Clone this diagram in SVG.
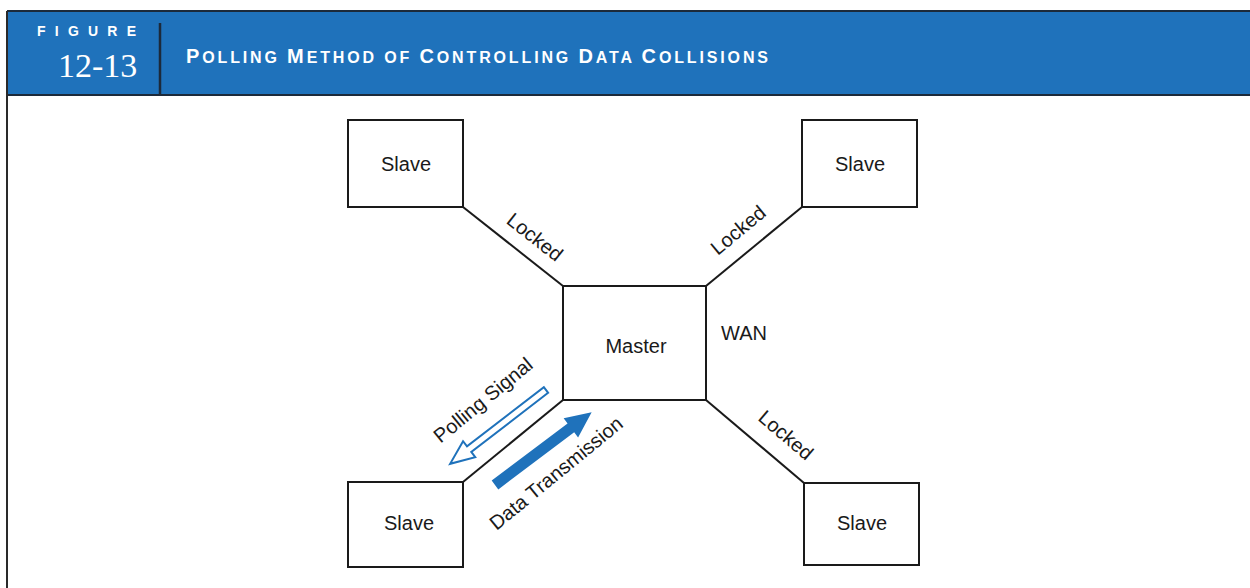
<svg xmlns="http://www.w3.org/2000/svg" width="1250" height="588" viewBox="0 0 1250 588">
  <style>
    .box { fill: #ffffff; stroke: #1a1a1a; stroke-width: 2; }
    .link { stroke: #1a1a1a; stroke-width: 2; fill: none; }
    .lbl { font-family: "Liberation Sans", Arial, sans-serif; font-size: 20px; fill: #1a1a1a; }
    .mid { text-anchor: middle; }
    .hdr { font-family: "Liberation Sans", Arial, sans-serif; font-weight: bold; fill: #ffffff; }
  </style>

  <rect x="0" y="0" width="1250" height="588" fill="#ffffff"/>

  <!-- figure header band -->
  <g id="header">
    <rect x="7" y="11" width="1243" height="84" fill="#1f72bb"/>
    <line x1="7" y1="11" x2="1250" y2="11" stroke="#1c2a3a" stroke-width="2"/>
    <line x1="7" y1="95" x2="1250" y2="95" stroke="#1c2a3a" stroke-width="2"/>
    <line x1="7" y1="11" x2="7" y2="588" stroke="#2a2a2a" stroke-width="2"/>
    <line x1="160" y1="23" x2="160" y2="95" stroke="#1c2a3a" stroke-width="2.5"/>
    <text class="hdr" x="37" y="36" font-size="14" textLength="99" lengthAdjust="spacing">FIGURE</text>
    <text x="58" y="77" font-family="'Liberation Serif', 'Times New Roman', serif" font-size="34" fill="#ffffff">12-13</text>
    <text class="hdr" x="186" y="63" textLength="582" lengthAdjust="spacing"><tspan font-size="20">P</tspan><tspan font-size="16">OLLING </tspan><tspan font-size="20">M</tspan><tspan font-size="16">ETHOD OF </tspan><tspan font-size="20">C</tspan><tspan font-size="16">ONTROLLING </tspan><tspan font-size="20">D</tspan><tspan font-size="16">ATA </tspan><tspan font-size="20">C</tspan><tspan font-size="16">OLLISIONS</tspan></text>
  </g>

  <!-- links from master to each slave -->
  <g id="connectors">
    <line class="link" x1="463" y1="207" x2="563" y2="286"/>
    <line class="link" x1="706" y1="286" x2="802" y2="207"/>
    <line class="link" x1="706" y1="400" x2="804" y2="483"/>
    <line class="link" x1="563" y1="400" x2="463" y2="482"/>

    <text class="lbl mid" transform="translate(535,237) rotate(38.3)" x="0" y="7">Locked</text>
    <text class="lbl mid" transform="translate(738,230) rotate(-39.7)" x="0" y="7">Locked</text>
    <text class="lbl mid" transform="translate(786,435) rotate(40.3)" x="0" y="7">Locked</text>
    <text class="lbl mid" transform="translate(483,400) rotate(-39.4)" x="0" y="7">Polling Signal</text>
    <text class="lbl mid" transform="translate(556,473) rotate(-39.4)" x="0" y="7">Data Transmission</text>

    <!-- polling signal: hollow arrow from master toward slave -->
    <polygon transform="translate(546,390) rotate(142.4)" points="0,-3.5 97,-3.5 97,-10 121,0 97,10 97,3.5 0,3.5" fill="#ffffff" stroke="#1f72bb" stroke-width="2" stroke-linejoin="miter"/>
    <!-- data transmission: solid arrow from slave toward master -->
    <polygon transform="translate(495,485) rotate(-37)" points="0,-5.5 95,-5.5 95,-12 121,0 95,12 95,5.5 0,5.5" fill="#1f72bb"/>
  </g>

  <g id="master">
    <rect class="box" x="563" y="286" width="143" height="114"/>
    <text class="lbl mid" x="636" y="353">Master</text>
  </g>
  <text id="wan" class="lbl" x="721" y="340">WAN</text>

  <g id="slave-top-left">
    <rect class="box" x="348" y="120" width="115" height="87"/>
    <text class="lbl mid" x="406" y="171">Slave</text>
  </g>
  <g id="slave-top-right">
    <rect class="box" x="802" y="120" width="115" height="87"/>
    <text class="lbl mid" x="860" y="171">Slave</text>
  </g>
  <g id="slave-bottom-left">
    <rect class="box" x="348" y="482" width="115" height="85"/>
    <text class="lbl mid" x="409" y="530">Slave</text>
  </g>
  <g id="slave-bottom-right">
    <rect class="box" x="804" y="483" width="115" height="82"/>
    <text class="lbl mid" x="862" y="530">Slave</text>
  </g>
</svg>
